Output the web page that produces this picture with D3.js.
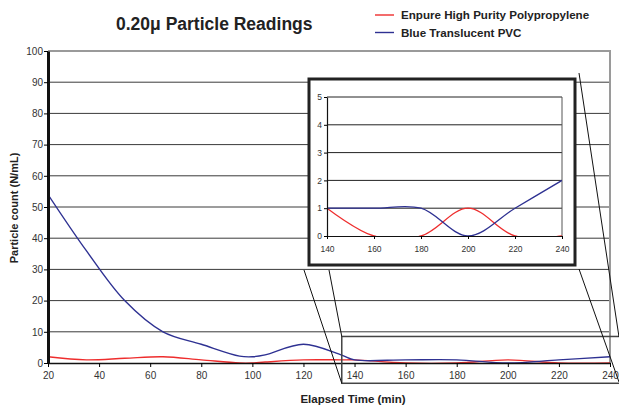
<!doctype html>
<html>
<head>
<meta charset="utf-8">
<script src="https://d3js.org/d3.v7.min.js"></script>
<style>
  body { margin: 0; background: #fff; }
  text { font-family: "Liberation Sans", Arial, sans-serif; }
</style>
</head>
<body>
<svg width="619" height="406"></svg>
<script>
// readings (min, N/mL)
var times  = [20, 35, 50, 65, 80, 95, 100, 105, 120, 135, 140, 160, 180, 200, 220, 240];
var enpure = [2, 1, 1.5, 2, 1, 0, 0, 0.3, 1, 1, 1, 0, 0, 1, 0, 0];
var pvc    = [54, 36, 20, 10, 6, 2.2, 2, 2.6, 6, 2.5, 1, 1, 1, 0, 1, 2];
var seriesNames = ["Enpure High Purity Polypropylene", "Blue Translucent PVC"];
var seriesColors = ["#ee2d2d", "#2e3192"];

var xTicks = [20, 40, 60, 80, 100, 120, 140, 160, 180, 200, 220, 240];
var yTicks = [0, 10, 20, 30, 40, 50, 60, 70, 80, 90, 100];
var insetXTicks = [140, 160, 180, 200, 220, 240];
var insetYTicks = [0, 1, 2, 3, 4, 5];

var svg = d3.select("svg");

var x = d3.scaleLinear().domain([20, 240]).range([48, 610]);
var y = d3.scaleLinear().domain([0, 100]).range([363, 51]);

var series = [enpure, pvc].map(function(vals, i) {
	return { name: seriesNames[i], color: seriesColors[i],
		pts: times.map(function(t, j) { return [t, vals[j]]; }) };
});

// gridlines
svg.append("g").selectAll("line")
	.data(yTicks.filter(function(d) { return d > 0 && d < 100; })).enter()
	.append("line")
		.attr("x1", x(20)).attr("x2", x(240))
		.attr("y1", function(d) { return y(d); }).attr("y2", function(d) { return y(d); })
		.style("stroke", "#3a3a3a").style("stroke-width", 1);

// plot frame (top + right)
svg.append("path")
	.attr("d", "M" + x(20) + "," + y(100) + "H" + x(240) + "V" + y(0))
	.style("fill", "none").style("stroke", "#9a9a9a").style("stroke-width", 2);

svg.append("clipPath").attr("id", "mainclip")
	.append("rect").attr("x", x(20)).attr("y", y(100))
	.attr("width", x(240) - x(20)).attr("height", y(0) - y(100));

var line = d3.line()
	.x(function(d) { return x(d[0]); })
	.y(function(d) { return y(d[1]); })
	.curve(d3.curveCatmullRom.alpha(0.5));

svg.append("g").attr("clip-path", "url(#mainclip)")
	.selectAll("path").data(series).enter()
	.append("path")
		.attr("d", function(d) { return line(d.pts); })
		.style("fill", "none")
		.style("stroke", function(d) { return d.color; })
		.style("stroke-width", 1.4);

// axes
var yAxis = svg.append("g").attr("transform", "translate(" + x(20) + ",0)")
	.call(d3.axisLeft(y).tickValues(yTicks).tickSize(4).tickPadding(1).tickSizeOuter(0));
yAxis.select(".domain").style("stroke", "#111").style("stroke-width", 3);

var xAxis = svg.append("g").attr("transform", "translate(0," + y(0) + ")")
	.call(d3.axisBottom(x).tickValues(xTicks).tickSize(4).tickPadding(5).tickSizeOuter(0));
xAxis.select(".domain").style("stroke", "#111").style("stroke-width", 1.5);

svg.selectAll(".tick text")
	.style("font-family", "'Liberation Sans', Arial, sans-serif")
	.style("font-size", "10px").style("fill", "#333");

// zoom marker box + leader lines
var zoomBox = { x0: 135, x1: 245, y0: -6.5, y1: 8.5 };
svg.append("rect")
	.attr("x", x(zoomBox.x0)).attr("y", y(zoomBox.y1))
	.attr("width", x(zoomBox.x1) - x(zoomBox.x0))
	.attr("height", y(zoomBox.y0) - y(zoomBox.y1))
	.style("fill", "none").style("stroke", "#444").style("stroke-width", 1.5);

var leaders = [
	[[304, 270], [x(zoomBox.x0), y(zoomBox.y0)]],
	[[329, 270], [x(zoomBox.x0), y(zoomBox.y1)]],
	[[579, 269], [619, 382]],
	[[579, 73], [619, 337]]
];
svg.append("g").selectAll("line").data(leaders).enter()
	.append("line")
		.attr("x1", function(d) { return d[0][0]; }).attr("y1", function(d) { return d[0][1]; })
		.attr("x2", function(d) { return d[1][0]; }).attr("y2", function(d) { return d[1][1]; })
		.style("stroke", "#111").style("stroke-width", 1);

// inset
var inset = svg.append("g");
inset.append("rect")
	.attr("x", 309).attr("y", 79).attr("width", 266).attr("height", 186)
	.style("fill", "#fff").style("stroke", "#222").style("stroke-width", 3);

var ix = d3.scaleLinear().domain([140, 240]).range([327, 562]);
var iy = d3.scaleLinear().domain([0, 5]).range([236, 97]);

inset.append("g").selectAll("line")
	.data(insetYTicks.filter(function(d) { return d > 0; })).enter()
	.append("line")
		.attr("x1", ix(140)).attr("x2", ix(240))
		.attr("y1", function(d) { return iy(d); }).attr("y2", function(d) { return iy(d); })
		.style("stroke", "#222").style("stroke-width", 1);
inset.append("line")
	.attr("x1", ix(240)).attr("x2", ix(240)).attr("y1", iy(5)).attr("y2", iy(0))
	.style("stroke", "#555").style("stroke-width", 1);

inset.append("clipPath").attr("id", "insetclip")
	.append("rect").attr("x", ix(140)).attr("y", iy(5))
	.attr("width", ix(240) - ix(140)).attr("height", iy(0) - iy(5));

var iline = d3.line()
	.x(function(d) { return ix(d[0]); })
	.y(function(d) { return iy(d[1]); })
	.curve(d3.curveCatmullRom.alpha(0.5));

inset.append("g").attr("clip-path", "url(#insetclip)")
	.selectAll("path").data(series).enter()
	.append("path")
		.attr("d", function(d) { return iline(d.pts.filter(function(p) { return p[0] >= 140; })); })
		.style("fill", "none")
		.style("stroke", function(d) { return d.color; })
		.style("stroke-width", 1.3);

var iyAxis = inset.append("g").attr("transform", "translate(" + ix(140) + ",0)")
	.call(d3.axisLeft(iy).tickValues(insetYTicks).tickFormat(d3.format("d"))
		.tickSize(3).tickPadding(2).tickSizeOuter(0));
iyAxis.select(".domain").style("stroke", "#111").style("stroke-width", 1.2);
var ixAxis = inset.append("g").attr("transform", "translate(0," + iy(0) + ")")
	.call(d3.axisBottom(ix).tickValues(insetXTicks).tickFormat(d3.format("d"))
		.tickSize(3).tickPadding(7).tickSizeOuter(0));
ixAxis.select(".domain").style("stroke", "#111").style("stroke-width", 1.2);
inset.selectAll(".tick text")
	.style("font-size", "8.5px").style("fill", "#333");

// title, legend, axis titles
svg.append("text")
	.attr("x", 116).attr("y", 30)
	.style("font-size", "17.5px").style("font-weight", "bold").style("fill", "#222")
	.text("0.20\u03bc Particle Readings");

var legend = svg.append("g").selectAll("g").data(series).enter()
	.append("g")
		.attr("transform", function(d, i) { return "translate(375," + (15 + i * 17.5) + ")"; });
legend.append("line")
	.attr("x1", 0).attr("x2", 19)
	.style("stroke", function(d) { return d.color; }).style("stroke-width", 1.4);
legend.append("text")
	.attr("x", 26).attr("dy", 4)
	.style("font-size", "11.6px").style("font-weight", "bold").style("fill", "#222")
	.text(function(d) { return d.name; });

svg.append("text")
	.attr("transform", "translate(18,208) rotate(-90)")
	.style("text-anchor", "middle")
	.style("font-size", "11px").style("font-weight", "bold").style("fill", "#222")
	.text("Particle count (N/mL)");

svg.append("text")
	.attr("x", 353).attr("y", 403)
	.style("text-anchor", "middle")
	.style("font-size", "11.5px").style("font-weight", "bold").style("fill", "#222")
	.text("Elapsed Time (min)");
</script>
</body>
</html>
